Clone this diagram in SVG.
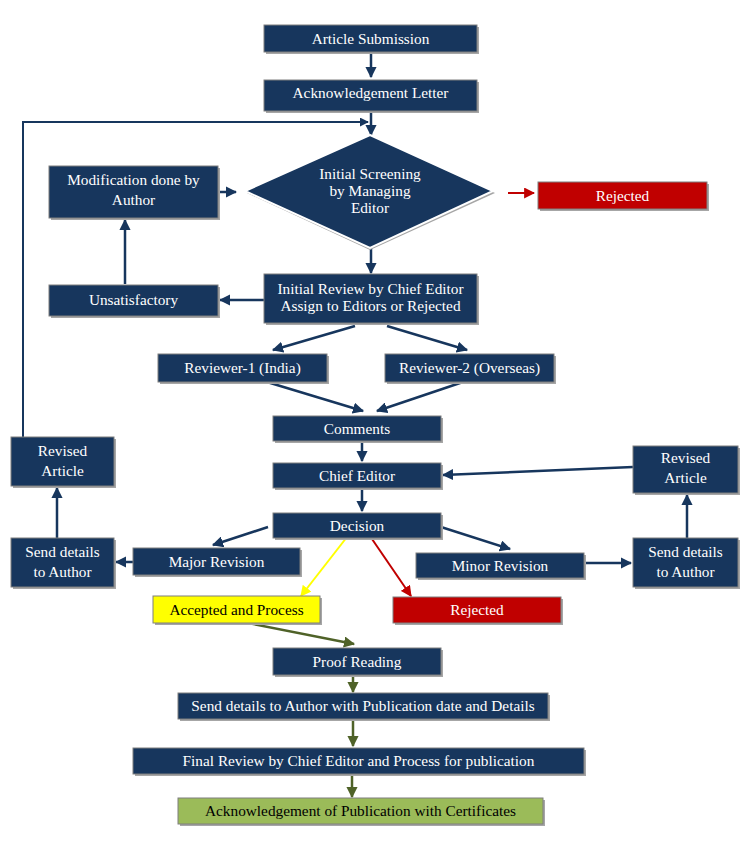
<svg xmlns="http://www.w3.org/2000/svg" width="750" height="850" viewBox="0 0 750 850">
<style>
.b{fill:#17365D;stroke:#7F7F7F;stroke-width:1}
.s{fill:#A6A6A6}
.r{fill:#C00000;stroke:#7F7F7F;stroke-width:1}
.y{fill:#FFFF00;stroke:#7F7F7F;stroke-width:1}
.g{fill:#9BBB59;stroke:#7F7F7F;stroke-width:1}
text{font-family:"Liberation Serif","Times New Roman",serif;font-size:15.3px;fill:#FFFFFF;text-anchor:middle}
text.k{fill:#000000}
.n{stroke:#17365D;stroke-width:2.5;fill:none}
.rc{stroke:#C00000;stroke-width:2;fill:none}
.yc{stroke:#FFFF00;stroke-width:2;fill:none}
.oc{stroke:#4F6228;stroke-width:2.5;fill:none}
</style>
<defs>
<marker id="an" viewBox="0 0 10 10" refX="9" refY="5" markerWidth="4.5" markerHeight="4.5" orient="auto" markerUnits="strokeWidth"><path d="M0,0 L10,5 L0,10 z" fill="#17365D"/></marker>
<marker id="ar" viewBox="0 0 10 10" refX="9" refY="5" markerWidth="5.5" markerHeight="5.5" orient="auto" markerUnits="strokeWidth"><path d="M0,0 L10,5 L0,10 z" fill="#C00000"/></marker>
<marker id="ay" viewBox="0 0 10 10" refX="9" refY="5" markerWidth="5.5" markerHeight="5.5" orient="auto" markerUnits="strokeWidth"><path d="M0,0 L10,5 L0,10 z" fill="#FFFF00"/></marker>
<marker id="ao" viewBox="0 0 10 10" refX="9" refY="5" markerWidth="4.5" markerHeight="4.5" orient="auto" markerUnits="strokeWidth"><path d="M0,0 L10,5 L0,10 z" fill="#4F6228"/></marker>
</defs>
<rect width="750" height="850" fill="#FFFFFF"/>

<g id="connectors">
<line class="n" x1="371" y1="52" x2="371" y2="77" marker-end="url(#an)"/>
<line class="n" x1="371" y1="111" x2="371" y2="135" marker-end="url(#an)"/>
<polyline class="n" style="stroke-width:2" points="23,437 23,122 368,122" marker-end="url(#an)"/>
<line class="n" x1="371" y1="248" x2="371" y2="273" marker-end="url(#an)"/>
<line class="n" x1="218" y1="192" x2="236" y2="192" marker-end="url(#an)"/>
<line class="rc" x1="508" y1="193" x2="534" y2="193" marker-end="url(#ar)"/>
<line class="n" x1="264" y1="300" x2="220" y2="300" marker-end="url(#an)"/>
<line class="n" x1="125" y1="284" x2="125" y2="220" marker-end="url(#an)"/>
<line class="n" x1="355" y1="326" x2="273" y2="350" marker-end="url(#an)"/>
<line class="n" x1="387" y1="326" x2="467" y2="350" marker-end="url(#an)"/>
<line class="n" x1="267" y1="382" x2="363" y2="411" marker-end="url(#an)"/>
<line class="n" x1="463" y1="382" x2="377" y2="411" marker-end="url(#an)"/>
<line class="n" x1="362" y1="441" x2="362" y2="461" marker-end="url(#an)"/>
<line class="n" x1="362" y1="488" x2="362" y2="511" marker-end="url(#an)"/>
<line class="n" x1="633" y1="467" x2="443" y2="475" marker-end="url(#an)"/>
<line class="n" x1="268" y1="527" x2="213" y2="545" marker-end="url(#an)"/>
<line class="n" x1="441" y1="527" x2="510" y2="549" marker-end="url(#an)"/>
<line class="n" x1="133" y1="562" x2="116" y2="562" marker-end="url(#an)"/>
<line class="n" x1="57" y1="538" x2="57" y2="488" marker-end="url(#an)"/>
<line class="n" x1="584" y1="563" x2="631" y2="563" marker-end="url(#an)"/>
<line class="n" x1="687" y1="538" x2="687" y2="495" marker-end="url(#an)"/>
<line class="rc" x1="372" y1="539" x2="411" y2="596" marker-end="url(#ar)"/>
<line class="yc" x1="347" y1="537" x2="301" y2="596" marker-end="url(#ay)"/>
<line class="oc" x1="248" y1="623" x2="354" y2="644" marker-end="url(#ao)"/>
<line class="oc" x1="353" y1="675" x2="353" y2="692" marker-end="url(#ao)"/>
<line class="oc" x1="353" y1="719" x2="353" y2="746" marker-end="url(#ao)"/>
<line class="oc" x1="352" y1="774" x2="352" y2="797" marker-end="url(#ao)"/>
</g>

<g id="n-article-submission">
<rect class="s" x="266" y="27" width="213" height="27"/>
<rect class="b" x="264" y="25" width="213" height="27"/>
<text x="370.5" y="43.5">Article Submission</text>
</g>
<g id="n-ack-letter">
<rect class="s" x="266" y="82" width="213" height="31"/>
<rect class="b" x="264" y="80" width="213" height="31"/>
<text x="370.5" y="98">Acknowledgement Letter</text>
</g>
<g id="n-initial-screening">
<polygon points="370,137 495,193 370,250 247,193" fill="#A6A6A6"/>
<polygon points="370,135 493,191 370,248 245,191" fill="#17365D" stroke="#FFFFFF" stroke-width="2"/>
<text x="370" y="179">Initial Screening</text>
<text x="370" y="196">by Managing</text>
<text x="370" y="213">Editor</text>
</g>
<g id="n-rejected-1">
<rect class="s" x="540" y="184" width="169" height="27"/>
<rect class="r" x="538" y="182" width="169" height="27"/>
<text x="622.5" y="200.5">Rejected</text>
</g>
<g id="n-modification">
<rect class="s" x="51" y="168" width="169" height="52"/>
<rect class="b" x="49" y="166" width="169" height="52"/>
<text x="133.5" y="184.5">Modification done by</text>
<text x="133.5" y="204.5">Author</text>
</g>
<g id="n-initial-review">
<rect class="s" x="266" y="276" width="213" height="49"/>
<rect class="b" x="264" y="274" width="213" height="49"/>
<text x="370.5" y="294">Initial Review by Chief Editor</text>
<text x="370.5" y="311">Assign to Editors or Rejected</text>
</g>
<g id="n-unsatisfactory">
<rect class="s" x="51" y="287" width="169" height="31"/>
<rect class="b" x="49" y="285" width="169" height="31"/>
<text x="133.5" y="305">Unsatisfactory</text>
</g>
<g id="n-reviewer-1">
<rect class="s" x="160" y="356" width="169" height="28"/>
<rect class="b" x="158" y="354" width="169" height="28"/>
<text x="242.5" y="373">Reviewer-1 (India)</text>
</g>
<g id="n-reviewer-2">
<rect class="s" x="387" y="356" width="169" height="28"/>
<rect class="b" x="385" y="354" width="169" height="28"/>
<text x="469.5" y="373">Reviewer-2 (Overseas)</text>
</g>
<g id="n-comments">
<rect class="s" x="275" y="418" width="168" height="25"/>
<rect class="b" x="273" y="416" width="168" height="25"/>
<text x="357" y="433.5">Comments</text>
</g>
<g id="n-chief-editor">
<rect class="s" x="275" y="465" width="168" height="25"/>
<rect class="b" x="273" y="463" width="168" height="25"/>
<text x="357" y="480.5">Chief Editor</text>
</g>
<g id="n-decision">
<rect class="s" x="275" y="515" width="168" height="25"/>
<rect class="b" x="273" y="513" width="168" height="25"/>
<text x="357" y="530.5">Decision</text>
</g>
<g id="n-revised-left">
<rect class="s" x="13" y="439" width="103" height="49"/>
<rect class="b" x="11" y="437" width="103" height="49"/>
<text x="62.5" y="456">Revised</text>
<text x="62.5" y="476">Article</text>
</g>
<g id="n-send-left">
<rect class="s" x="13" y="540" width="103" height="49"/>
<rect class="b" x="11" y="538" width="103" height="49"/>
<text x="62.5" y="557">Send details</text>
<text x="62.5" y="577">to Author</text>
</g>
<g id="n-major">
<rect class="s" x="135" y="550" width="167" height="27"/>
<rect class="b" x="133" y="548" width="167" height="27"/>
<text x="216.5" y="566.5">Major Revision</text>
</g>
<g id="n-minor">
<rect class="s" x="418" y="555" width="168" height="25"/>
<rect class="b" x="416" y="553" width="168" height="25"/>
<text x="500" y="570.5">Minor Revision</text>
</g>
<g id="n-revised-right">
<rect class="s" x="635" y="448" width="105" height="47"/>
<rect class="b" x="633" y="446" width="105" height="47"/>
<text x="685.5" y="463">Revised</text>
<text x="685.5" y="483">Article</text>
</g>
<g id="n-send-right">
<rect class="s" x="635" y="540" width="105" height="49"/>
<rect class="b" x="633" y="538" width="105" height="49"/>
<text x="685.5" y="557">Send details</text>
<text x="685.5" y="577">to Author</text>
</g>
<g id="n-accepted">
<rect class="s" x="155" y="598" width="167" height="27"/>
<rect class="y" x="153" y="596" width="167" height="27"/>
<text class="k" x="236.5" y="614.5">Accepted and Process</text>
</g>
<g id="n-rejected-2">
<rect class="s" x="395" y="599" width="168" height="26"/>
<rect class="r" x="393" y="597" width="168" height="26"/>
<text x="477" y="615">Rejected</text>
</g>
<g id="n-proof">
<rect class="s" x="275" y="650" width="168" height="27"/>
<rect class="b" x="273" y="648" width="168" height="27"/>
<text x="357" y="666.5">Proof Reading</text>
</g>
<g id="n-send-pub">
<rect class="s" x="180" y="695" width="370" height="26"/>
<rect class="b" x="178" y="693" width="370" height="26"/>
<text x="363" y="711">Send details to Author with Publication date and Details</text>
</g>
<g id="n-final-review">
<rect class="s" x="135" y="750" width="451" height="26"/>
<rect class="b" x="133" y="748" width="451" height="26"/>
<text x="358.5" y="766">Final Review by Chief Editor and Process for publication</text>
</g>
<g id="n-ack-pub">
<rect class="s" x="180" y="800" width="365" height="26"/>
<rect class="g" x="178" y="798" width="365" height="26"/>
<text class="k" x="360.5" y="816">Acknowledgement of Publication with Certificates</text>
</g>
</svg>
